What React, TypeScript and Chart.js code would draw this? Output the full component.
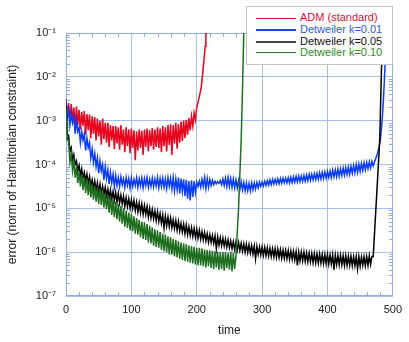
import React, { useEffect, useRef } from "react";
import { Chart, registerables } from "chart.js";
Chart.register(...registerables);

// Sample spacing (time units) of the noisy part of every series
const STEP = 2;

const admLog = [
  -2.5, -2.95, -2.6, -3.05, -2.62, -3.0, -2.7, -3.15, -2.68, -3.1,
  -2.75, -3.2, -2.8, -3.12, -2.78, -3.32, -2.85, -3.22, -2.86, -3.4,
  -2.9, -3.3, -2.92, -3.45, -2.95, -3.36, -3.0, -3.55, -2.95, -3.42,
  -3.05, -3.5, -3.05, -3.6, -3.1, -3.45, -3.12, -3.65, -3.12, -3.52,
  -3.15, -3.66, -3.1, -3.55, -3.2, -3.72, -3.15, -3.58, -3.2, -3.74,
  -3.18, -3.62, -3.22, -3.9, -3.25, -3.68, -3.2, -3.62, -3.23, -3.78,
  -3.2, -3.6, -3.18, -3.7, -3.22, -3.58, -3.17, -3.66, -3.2, -3.6,
  -3.15, -3.62, -3.18, -3.72, -3.12, -3.58, -3.15, -3.7, -3.1, -3.56,
  -3.08, -3.78, -3.1, -3.52, -3.05, -3.64, -3.08, -3.5, -3.02, -3.46,
  -3.0, -3.4, -2.98, -3.32, -2.94, -3.22, -2.9, -3.12, -2.82, -2.98,
];
const admRiseT = [200, 204, 207, 209, 211, 213, 214, 215];
const admRiseLog = [-2.7, -2.45, -2.23, -1.95, -1.62, -1.3, -1.09, -0.85];

const k001Log = [
  -2.55, -2.95, -2.75, -3.1, -2.85, -3.05, -2.9, -3.3, -3.0, -3.25,
  -3.15, -3.5, -3.25, -3.45, -3.3, -3.68, -3.4, -3.62, -3.5, -3.85,
  -3.65, -3.95, -3.75, -4.05, -3.85, -4.2, -3.92, -4.15, -4.0, -4.35,
  -4.05, -4.32, -4.12, -4.45, -4.18, -4.42, -4.22, -4.5, -4.25, -4.48,
  -4.3, -4.5, -4.28, -4.46, -4.33, -4.52, -4.3, -4.48, -4.32, -4.54,
  -4.31, -4.5, -4.34, -4.48, -4.3, -4.52, -4.33, -4.49, -4.31, -4.53,
  -4.32, -4.48, -4.3, -4.52, -4.34, -4.5, -4.31, -4.51, -4.33, -4.49,
  -4.3, -4.53, -4.32, -4.5, -4.31, -4.52, -4.33, -4.55, -4.3, -4.5,
  -4.32, -4.56, -4.3, -4.6, -4.33, -4.58, -4.3, -4.66, -4.32, -4.62,
  -4.34, -4.72, -4.35, -4.78, -4.38, -4.82, -4.36, -4.74, -4.38, -4.64,
  -4.4, -4.5, -4.38, -4.52, -4.34, -4.5, -4.3, -4.55, -4.32, -4.52,
  -4.34, -4.48, -4.36, -4.46, -4.38, -4.44, -4.39, -4.43, -4.37, -4.46,
  -4.33, -4.48, -4.31, -4.5, -4.3, -4.5, -4.32, -4.52, -4.33, -4.53,
  -4.35, -4.54, -4.37, -4.57, -4.39, -4.58, -4.41, -4.6, -4.42, -4.6,
  -4.43, -4.6, -4.42, -4.58, -4.42, -4.56, -4.41, -4.53, -4.4, -4.5,
  -4.4, -4.49, -4.38, -4.48, -4.37, -4.47, -4.35, -4.46, -4.34, -4.45,
  -4.34, -4.44, -4.33, -4.44, -4.32, -4.43, -4.31, -4.42, -4.31, -4.42,
  -4.3, -4.42, -4.29, -4.41, -4.28, -4.4, -4.27, -4.4, -4.26, -4.39,
  -4.26, -4.38, -4.25, -4.38, -4.24, -4.37, -4.22, -4.36, -4.22, -4.35,
  -4.21, -4.34, -4.2, -4.34, -4.19, -4.33, -4.18, -4.32, -4.17, -4.31,
  -4.16, -4.3, -4.15, -4.3, -4.13, -4.28, -4.12, -4.28, -4.1, -4.27,
  -4.1, -4.25, -4.08, -4.24, -4.07, -4.23, -4.06, -4.22, -4.04, -4.2,
  -4.02, -4.19, -4.0, -4.18, -3.99, -4.16, -3.98, -4.14, -3.96, -4.12,
  -3.95, -4.1, -3.94, -4.08, -3.93, -4.03,
];
const k001RiseT = [473, 476, 479, 481, 483, 485, 487, 488.5, 490];
const k001RiseLog = [-3.9, -3.78, -3.6, -3.42, -3.1, -2.7, -2.1, -1.6, -0.9];

const k005Log = [
  -2.65, -3.3, -3.35, -3.7, -3.62, -3.9, -3.78, -4.0, -3.92, -4.15,
  -4.02, -4.25, -4.1, -4.32, -4.18, -4.38, -4.22, -4.45, -4.28, -4.5,
  -4.35, -4.55, -4.38, -4.6, -4.42, -4.65, -4.45, -4.68, -4.5, -4.7,
  -4.52, -4.72, -4.56, -4.76, -4.58, -4.8, -4.62, -4.82, -4.64, -4.86,
  -4.66, -4.88, -4.7, -4.9, -4.72, -4.95, -4.76, -4.96, -4.78, -5.0,
  -4.8, -5.0, -4.82, -5.05, -4.86, -5.08, -4.88, -5.1, -4.9, -5.14,
  -4.94, -5.14, -4.96, -5.2, -5.0, -5.22, -5.03, -5.24, -5.06, -5.28,
  -5.08, -5.3, -5.12, -5.34, -5.15, -5.45, -5.18, -5.4, -5.2, -5.42,
  -5.22, -5.44, -5.26, -5.46, -5.28, -5.5, -5.3, -5.52, -5.34, -5.54,
  -5.36, -5.58, -5.38, -5.6, -5.42, -5.62, -5.44, -5.64, -5.46, -5.66,
  -5.48, -5.68, -5.5, -5.7, -5.53, -5.72, -5.55, -5.74, -5.58, -5.77,
  -5.6, -5.78, -5.62, -5.8, -5.63, -5.92, -5.65, -5.84, -5.67, -5.85,
  -5.68, -5.86, -5.7, -5.88, -5.72, -5.9, -5.74, -5.92, -5.76, -5.94,
  -5.77, -5.95, -5.78, -5.96, -5.8, -5.98, -5.81, -6.0, -5.82, -6.01,
  -5.83, -6.02, -5.85, -6.04, -5.86, -6.15, -5.87, -6.05, -5.88, -6.06,
  -5.88, -6.07, -5.89, -6.08, -5.9, -6.09, -5.91, -6.1, -5.92, -6.11,
  -5.92, -6.12, -5.93, -6.12, -5.94, -6.14, -5.95, -6.14, -5.96, -6.15,
  -5.96, -6.16, -5.97, -6.16, -5.98, -6.18, -5.99, -6.3, -6.0, -6.2,
  -6.0, -6.2, -6.0, -6.21, -6.02, -6.22, -6.02, -6.22, -6.03, -6.24,
  -6.03, -6.24, -6.04, -6.25, -6.04, -6.25, -6.05, -6.26, -6.05, -6.26,
  -6.05, -6.27, -6.06, -6.27, -6.06, -6.4, -6.07, -6.28, -6.07, -6.29,
  -6.07, -6.29, -6.08, -6.3, -6.08, -6.3, -6.09, -6.3, -6.09, -6.31,
  -6.1, -6.31, -6.1, -6.38, -6.1, -6.32, -6.11, -6.3, -6.1, -6.31,
  -6.1, -6.3, -6.08, -6.28, -6.1,
];
const k005RiseT = [470, 480, 483, 484];
const k005RiseLog = [-6.1, -3.44, -1.6, -0.9];

const k010Log = [
  -2.7, -3.45, -3.45, -3.95, -3.75, -4.15, -3.92, -4.3, -4.05, -4.42,
  -4.15, -4.5, -4.22, -4.58, -4.28, -4.65, -4.32, -4.7, -4.38, -4.75,
  -4.45, -4.8, -4.48, -4.85, -4.52, -4.9, -4.55, -4.92, -4.58, -4.98,
  -4.66, -5.02, -4.7, -5.1, -4.74, -5.15, -4.8, -5.2, -4.85, -5.25,
  -4.9, -5.3, -4.95, -5.35, -5.0, -5.42, -5.05, -5.45, -5.1, -5.5,
  -5.12, -5.52, -5.18, -5.58, -5.22, -5.6, -5.26, -5.66, -5.3, -5.7,
  -5.32, -5.72, -5.36, -5.78, -5.4, -5.8, -5.44, -5.85, -5.48, -5.88,
  -5.5, -5.9, -5.54, -5.95, -5.58, -5.98, -5.6, -6.0, -5.64, -6.05,
  -5.66, -6.06, -5.7, -6.1, -5.72, -6.12, -5.75, -6.15, -5.78, -6.18,
  -5.8, -6.2, -5.82, -6.22, -5.85, -6.24, -5.86, -6.26, -5.88, -6.28,
  -5.9, -6.3, -5.9, -6.3, -5.92, -6.32, -5.94, -6.35, -5.95, -6.32,
  -5.96, -6.36, -5.97, -6.38, -5.98, -6.35, -5.99, -6.4, -6.0, -6.38,
  -6.0, -6.42, -6.0, -6.36, -6.02, -6.4, -6.0, -6.44, -6.02, -6.38,
];
const k010RiseT = [260, 264, 268, 270, 272, 273];
const k010RiseLog = [-6.1, -5.0, -3.44, -2.3, -1.0, -0.8];

const seriesNames = ["ADM (standard)", "Detweiler k=0.01", "Detweiler k=0.05", "Detweiler k=0.10"];
const xTicks = [0, 100, 200, 300, 400, 500];
const yDecades = [-7, -6, -5, -4, -3, -2, -1];

const LINE_COLORS = ["#e8001c", "#0a3cff", "#000000", "#1f6e1f"];
const TEXT_COLORS = ["#d4103a", "#2a5ee0", "#111111", "#2e8a2e"];
const LEGEND_LINE = ["#d81040", "#1a44e8", "#444444", "#2e8a2e"];
const GRID = "#a3bfef";
const FRAME = "#8eaee9";
const FONT = '"Liberation Sans", Arial, Helvetica, sans-serif';

const SUP: Record<string, string> = {
  "-": "\u207B", "0": "\u2070", "1": "\u00B9", "2": "\u00B2", "3": "\u00B3",
  "4": "\u2074", "5": "\u2075", "6": "\u2076", "7": "\u2077", "8": "\u2078", "9": "\u2079",
};
const decadeLabel = (e: number) => "10" + String(e).split("").map((c) => SUP[c] ?? c).join("");

function toPoints(log: number[], riseT: number[], riseLog: number[]) {
  const pts = log.map((v, i) => ({ x: i * STEP, y: Math.pow(10, v) }));
  riseT.forEach((t, i) => pts.push({ x: t, y: Math.pow(10, riseLog[i]) }));
  return pts;
}

const framePlugin = {
  id: "frame",
  beforeDatasetsDraw(chart: any) {
    const { ctx, chartArea: a, scales } = chart;
    const xs = scales.x;
    const ys = scales.y;
    ctx.save();
    ctx.strokeStyle = FRAME;
    ctx.lineWidth = 1;
    ctx.beginPath();
    for (let t = 0; t <= 500; t += 20) {
      if (t % 100 === 0) continue;
      const px = Math.round(xs.getPixelForValue(t)) + 0.5;
      ctx.moveTo(px, a.bottom);
      ctx.lineTo(px, a.bottom - 4);
      ctx.moveTo(px, a.top);
      ctx.lineTo(px, a.top + 4);
    }
    for (let e = -7; e < -1; e++) {
      for (let m = 2; m <= 9; m++) {
        const py = Math.round(ys.getPixelForValue(m * Math.pow(10, e))) + 0.5;
        ctx.moveTo(a.left, py);
        ctx.lineTo(a.left + 4, py);
        ctx.moveTo(a.right, py);
        ctx.lineTo(a.right - 4, py);
      }
    }
    ctx.stroke();
    ctx.strokeRect(Math.round(a.left) + 0.5, Math.round(a.top) + 0.5, Math.round(a.right - a.left) - 1, Math.round(a.bottom - a.top) - 1);
    ctx.restore();
  },
};

export default function App() {
  const ref = useRef<HTMLCanvasElement>(null);
  useEffect(() => {
    const data = [
      toPoints(admLog, admRiseT, admRiseLog),
      toPoints(k001Log, k001RiseT, k001RiseLog),
      toPoints(k005Log, k005RiseT, k005RiseLog),
      toPoints(k010Log, k010RiseT, k010RiseLog),
    ];
    const chart = new Chart(ref.current!, {
      type: "line",
      data: {
        datasets: data.map((d, i) => ({
          label: seriesNames[i],
          data: d,
          borderColor: LINE_COLORS[i],
          backgroundColor: LINE_COLORS[i],
          borderWidth: 1.5,
          pointRadius: 0,
          tension: 0,
          fill: false,
          order: 3 - i,
        })),
      },
      options: {
        responsive: false,
        animation: false,
        devicePixelRatio: 1,
        parsing: false as any,
        layout: { padding: { top: 33, right: 14, left: 0, bottom: 0 } },
        plugins: { legend: { display: false }, tooltip: { enabled: false } },
        scales: {
          x: {
            type: "linear",
            min: 0,
            max: 500,
            afterBuildTicks: (s: any) => { s.ticks = xTicks.map((v) => ({ value: v })); },
            afterFit: (s: any) => { s.height = 46; },
            grid: { color: GRID, drawTicks: false, lineWidth: 1 },
            border: { display: false },
            ticks: { padding: 7, color: "#222", font: { family: FONT, size: 11 }, maxRotation: 0 },
            title: { display: true, text: "time", color: "#222", font: { family: FONT, size: 12 }, padding: { top: 0, bottom: 4 } },
          },
          y: {
            type: "logarithmic",
            min: 1e-7,
            max: 1e-1,
            afterBuildTicks: (s: any) => { s.ticks = yDecades.map((e) => ({ value: Math.pow(10, e) })); },
            afterFit: (s: any) => { s.width = 66; },
            grid: { color: GRID, drawTicks: false, lineWidth: 1 },
            border: { display: false },
            ticks: {
              padding: 10,
              color: "#222",
              font: { family: FONT, size: 11 },
              callback: (v: any) => decadeLabel(Math.round(Math.log10(Number(v)))),
            },
            title: { display: true, text: "error (norm of Hamiltonian constraint)", color: "#222", font: { family: FONT, size: 12 }, padding: { top: 5, bottom: 0 } },
          },
        },
      },
      plugins: [framePlugin],
    });
    return () => chart.destroy();
  }, []);

  // vertical centre of each legend row, relative to the inside of the legend box
  const rowCentres = [11.3, 23, 34.7, 45.7];
  return (
    <div style={{ position: "fixed", left: 0, top: 0, width: 409, height: 342, background: "#fff", fontFamily: FONT }}>
      <canvas ref={ref} width={409} height={342} style={{ display: "block", width: 409, height: 342 }} />
      <div
        style={{
          position: "absolute",
          left: 246,
          top: 6,
          width: 145,
          height: 57,
          border: "1px solid #c4c4c4",
          background: "#fff",
        }}
      >
        {seriesNames.map((name, i) => (
          <div key={name} style={{ position: "absolute", left: 0, top: rowCentres[i] - 6, height: 12, width: 145 }}>
            <div
              style={{
                position: "absolute",
                left: 9,
                top: i === 1 || i === 2 ? 5 : 5.5,
                width: 40,
                height: i === 1 || i === 2 ? 2 : 1,
                background: LEGEND_LINE[i],
              }}
            />
            <div
              style={{
                position: "absolute",
                left: 53,
                top: -1,
                fontSize: 11,
                lineHeight: "13px",
                color: TEXT_COLORS[i],
                whiteSpace: "nowrap",
              }}
            >
              {name}
            </div>
          </div>
        ))}
      </div>
    </div>
  );
}
